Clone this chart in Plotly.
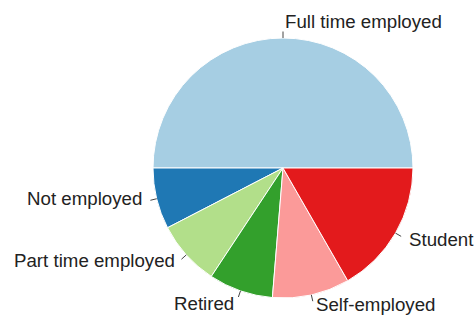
import math
import plotly.graph_objects as go

labels = ["Full time employed", "Not employed", "Part time employed",
          "Retired", "Self-employed", "Student"]
values = [50.0, 7.6, 8.1, 8.0, 9.6, 16.7]
colors = ["#a6cee3", "#1f78b4", "#b2df8a", "#33a02c", "#fb9a99", "#e31a1c"]

W, H = 475, 318
cx, cy, R = 283, 168, 130  # pie centre and radius in pixels

fig = go.Figure(go.Pie(
    labels=labels, values=values, sort=False,
    direction="counterclockwise", rotation=-90,
    marker=dict(colors=colors, line=dict(color="white", width=1)),
    textinfo="none", hoverinfo="label+percent", showlegend=False,
    domain=dict(x=[(cx - R) / W, (cx + R) / W],
                y=[1 - (cy + R) / H, 1 - (cy - R) / H]),
))

total = sum(values)
start = 0.0
for lab, v in zip(labels, values):
    ang = math.radians(360.0 * (start + v / 2) / total)
    start += v
    c, s = math.cos(ang), math.sin(ang)
    lx = (cx + 1.1 * R * c) / W
    ly = 1 - (cy - 1.1 * R * s) / H
    # matplotlib centres the whole text box (incl. descenders)
    shift = 3 if any(ch in lab for ch in "gjpqy") else 0
    fig.add_annotation(x=lx, y=ly, xref="paper", yref="paper", text=lab,
                       showarrow=False, yshift=shift,
                       xanchor="left" if c > -1e-9 else "right",
                       yanchor="middle",
                       font=dict(family="Liberation Sans, Arial", size=18.7,
                                 color="#222222"))
    x0 = (cx + 1.0 * R * c) / W
    y0 = 1 - (cy - 1.0 * R * s) / H
    x1 = (cx + 1.05 * R * c) / W
    y1 = 1 - (cy - 1.05 * R * s) / H
    fig.add_shape(type="line", xref="paper", yref="paper",
                  x0=x0, y0=y0, x1=x1, y1=y1,
                  line=dict(color="#444444", width=1))

fig.update_layout(width=W, height=H, margin=dict(l=0, r=0, t=0, b=0),
                  paper_bgcolor="white", plot_bgcolor="white")
fig.write_html("out.html", config={"displayModeBar": False},
               post_script="document.body.style.margin='0';"
                           "document.body.style.overflow='hidden';")
